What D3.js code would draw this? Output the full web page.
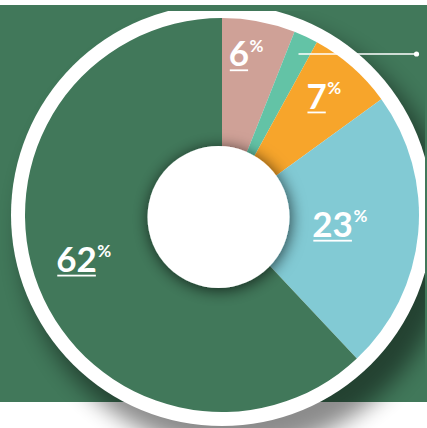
<!DOCTYPE html>
<html>
<head>
<meta charset="utf-8">
<script src="https://cdn.jsdelivr.net/npm/d3@7"></script>
<style>
  html, body { margin: 0; padding: 0; background: #ffffff; }
  svg { display: block; }
</style>
</head>
<body>
<svg id="chart" width="427" height="428"></svg>
<script>
// Share of each segment, in percent, clockwise from twelve o'clock
const segments = ["A", "B", "C", "D", "E"];
const shares = [6, 2, 7, 23, 62];
const segmentColors = ["#cfa197", "#63c3a6", "#f7a52b", "#82cad4", "#41785a"];
const labelTexts = ["6", null, "7", "23", "62"];

const W = 427, H = 428;
const cx = 222, cy = 215;
const pieR = 197, ringR = 211;
const hole = { x: 218.5, y: 217, r: 71 };

// label placement per segment: radius from centre and angle tweak (degrees)
const labelPlace = {
  0: { r: 162, da: -4.8 },
  2: { r: 152, da: -2.9 },
  3: { r: 111, da: -0.6 },
  4: { r: 152, da: 4.7 }
};

const svg = d3.select("#chart");
const defs = svg.append("defs");

const blur = defs.append("filter").attr("id", "discShadow")
  .attr("x", "-30%").attr("y", "-30%").attr("width", "160%").attr("height", "160%");
blur.append("feGaussianBlur").attr("stdDeviation", 11);

const holeShadow = defs.append("filter").attr("id", "holeShadow")
  .attr("x", "-40%").attr("y", "-40%").attr("width", "180%").attr("height", "180%");
holeShadow.append("feDropShadow")
  .attr("dx", 1).attr("dy", 2).attr("stdDeviation", 8)
  .attr("flood-color", "#000").attr("flood-opacity", 0.7);

defs.append("clipPath").attr("id", "discClip")
  .append("rect").attr("x", 0).attr("y", 11).attr("width", 425).attr("height", H - 11);

// background panel
svg.append("rect").attr("x", 0).attr("y", 0).attr("width", W).attr("height", H).attr("fill", "#ffffff");
svg.append("rect").attr("x", 0).attr("y", 5).attr("width", W).attr("height", 397).attr("fill", "#41785a");

const disc = svg.append("g").attr("clip-path", "url(#discClip)");

// cast shadow of the disc
disc.append("circle")
  .attr("cx", cx + 14).attr("cy", cy + 20).attr("r", ringR + 4)
  .attr("fill", "#000").attr("opacity", 0.45)
  .attr("filter", "url(#discShadow)");

// white rim
disc.append("circle").attr("cx", cx).attr("cy", cy).attr("r", ringR).attr("fill", "#ffffff");

const pie = d3.pie().sort(null).value(d => d.value);
const arcs = pie(shares.map((v, i) => ({ key: segments[i], value: v, i })));
const arc = d3.arc().innerRadius(0).outerRadius(pieR);

const g = disc.append("g").attr("transform", `translate(${cx},${cy})`);
g.selectAll("path.slice").data(arcs).join("path")
  .attr("class", "slice")
  .attr("d", arc)
  .attr("fill", d => segmentColors[d.data.i]);

// centre hole
svg.append("circle")
  .attr("cx", hole.x).attr("cy", hole.y).attr("r", hole.r)
  .attr("fill", "#ffffff").attr("filter", "url(#holeShadow)");

// leader line for the unlabelled thin segment
const lineY = 54;
svg.append("line")
  .attr("x1", 298.5).attr("y1", lineY).attr("x2", 416.5).attr("y2", lineY)
  .attr("stroke", "#ffffff").attr("stroke-width", 1.5);
svg.append("circle").attr("cx", 416.5).attr("cy", lineY).attr("r", 2.6).attr("fill", "#ffffff");

// percentage labels
const fontFam = "Lato, 'Open Sans', sans-serif";
arcs.forEach(d => {
  const txt = labelTexts[d.data.i];
  if (!txt) return;
  const p = labelPlace[d.data.i];
  const mid = (d.startAngle + d.endAngle) / 2 + p.da * Math.PI / 180;
  const x = cx + p.r * Math.sin(mid);
  const yc = cy - p.r * Math.cos(mid);
  const base = yc + 12.5;

  const num = svg.append("text")
    .attr("x", x).attr("y", base)
    .attr("text-anchor", "middle")
    .attr("font-family", fontFam).attr("font-weight", 700)
    .attr("font-size", 35).attr("fill", "#ffffff")
    .text(txt);
  const w = num.node().getComputedTextLength();

  svg.append("rect")
    .attr("x", x - w / 2 + 1).attr("y", base + 3)
    .attr("width", w - 2).attr("height", 1.8)
    .attr("fill", "#ffffff");

  svg.append("text")
    .attr("x", x + w / 2 + 0.5).attr("y", base - 14.5)
    .attr("font-family", fontFam).attr("font-weight", 700)
    .attr("font-size", 17).attr("fill", "#ffffff")
    .text("%");
});
</script>
</body>
</html>
